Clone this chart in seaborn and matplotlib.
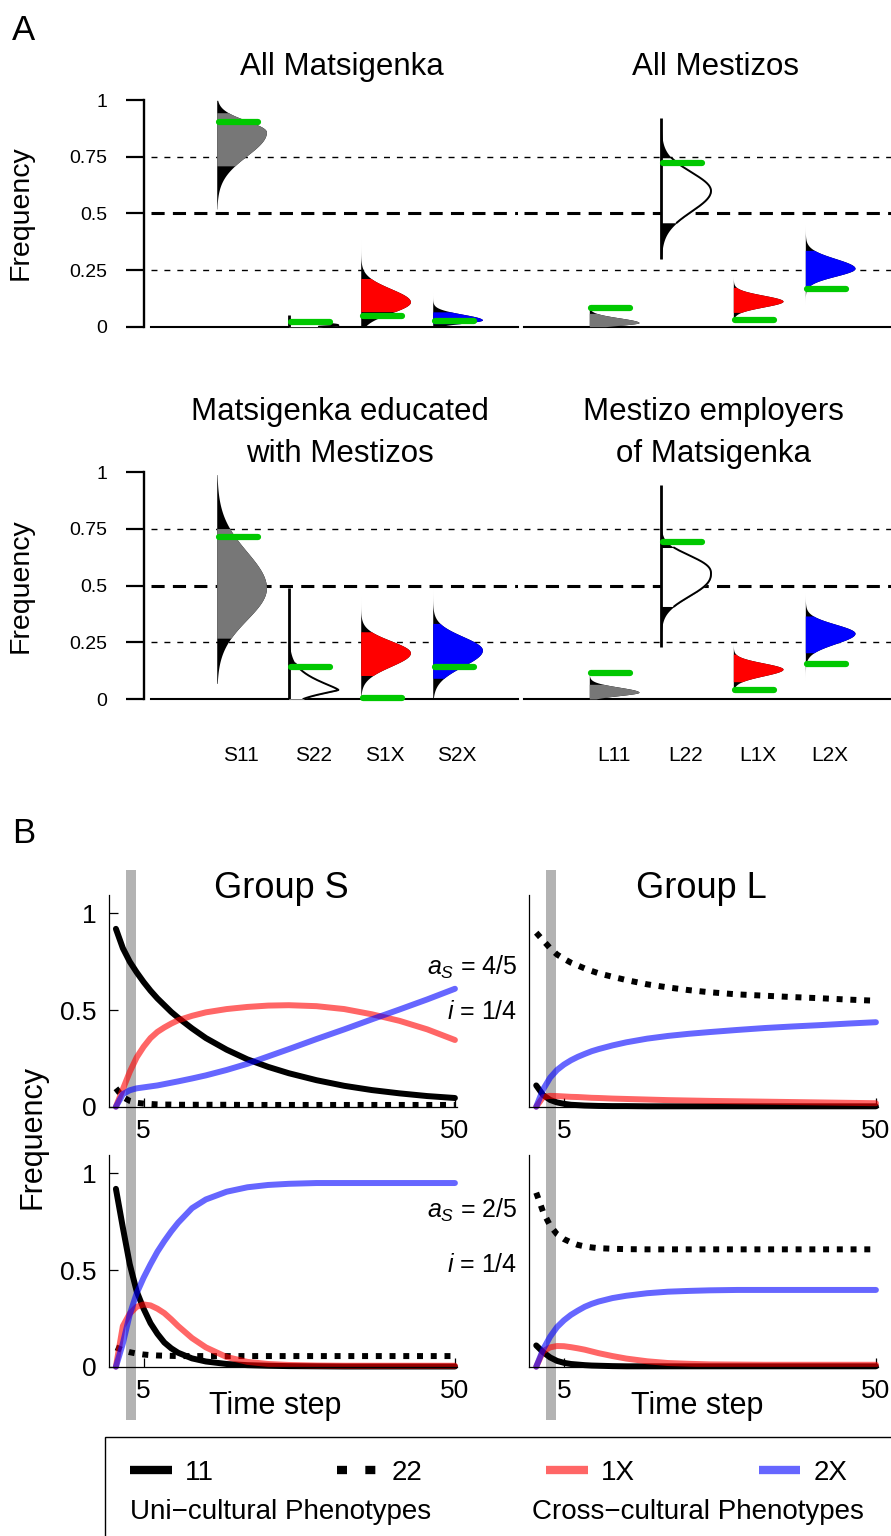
import numpy as np
import matplotlib
matplotlib.use("Agg")
import matplotlib.pyplot as plt
import seaborn as sns
from matplotlib.lines import Line2D
from matplotlib.patches import Rectangle

# ---------------- Panel A data (posterior shapes) -------------
S_LABELS = ["S11", "S22", "S1X", "S2X"]
L_LABELS = ["L11", "L22", "L1X", "L2X"]
FILLS = ["#777777", "white", "#ff0000", "#0000ff"]

# All Matsigenka
am_lo = [0.52, 0.0, 0.0, 0.0]
am_hi = [1.0, 0.05, 0.42, 0.18]
am_peak = [0.86, 0.006, 0.11, 0.03]
am_sd_low = [0.105, 0.006, 0.05, 0.015]
am_sd_high = [0.05, 0.01, 0.058, 0.025]
am_shape = [2, 2, 2, 2]
am_band_lo = [0.71, 0.0, 0.066, 0.013]
am_band_hi = [0.946, 0.015, 0.213, 0.066]
am_obs = [0.904, 0.022, 0.047, 0.027]

# All Mestizos
ae_lo = [0.0, 0.30, 0.035, 0.074]
ae_hi = [0.118, 0.92, 0.27, 0.456]
ae_peak = [0.018, 0.60, 0.113, 0.258]
ae_sd_low = [0.012, 0.092, 0.026, 0.035]
ae_sd_high = [0.021, 0.082, 0.026, 0.043]
ae_shape = [2, 2, 2, 2]
ae_band_lo = [0.0, 0.459, 0.063, 0.18]
ae_band_hi = [0.059, 0.747, 0.174, 0.338]
ae_obs = [0.083, 0.724, 0.028, 0.166]

# Matsigenka educated with Mestizos
me_lo = [0.069, 0.0, 0.0, 0.0]
me_hi = [0.99, 0.488, 0.45, 0.53]
me_peak = [0.49, 0.04, 0.204, 0.216]
me_sd_low = [0.14, 0.02, 0.06, 0.072]
me_sd_high = [0.16, 0.04, 0.053, 0.06]
me_shape = [2, 1.3, 2, 2]
me_band_lo = [0.268, 0.0, 0.103, 0.091]
me_band_hi = [0.753, 0.157, 0.297, 0.334]
me_obs = [0.715, 0.142, 0.006, 0.142]

# Mestizo employers of Matsigenka
ee_lo = [0.0, 0.231, 0.03, 0.04]
ee_hi = [0.142, 0.944, 0.326, 0.473]
ee_peak = [0.03, 0.554, 0.132, 0.29]
ee_sd_low = [0.015, 0.096, 0.03, 0.046]
ee_sd_high = [0.022, 0.075, 0.027, 0.04]
ee_shape = [2, 2.4, 2, 2]
ee_band_lo = [0.0, 0.407, 0.076, 0.204]
ee_band_hi = [0.065, 0.669, 0.198, 0.367]
ee_obs = [0.116, 0.692, 0.04, 0.154]

# ---------------- Panel B data (time series) -----------------------------------------
T = [1, 2, 3, 4, 5, 6, 7, 8, 9, 10, 12, 14, 17, 20, 23, 26, 30, 34, 38, 42, 46, 50]

# Group S, a_S = 4/5
s45_11 = [0.92, 0.82, 0.75, 0.695, 0.645, 0.60, 0.56, 0.525, 0.49, 0.46, 0.405, 0.355, 0.295, 0.245, 0.206, 0.173, 0.137, 0.108, 0.086, 0.069, 0.055, 0.045]
s45_22 = [0.095, 0.05, 0.03, 0.02, 0.016, 0.014, 0.012, 0.011, 0.011, 0.01, 0.01, 0.01, 0.01, 0.009, 0.009, 0.009, 0.009, 0.009, 0.009, 0.009, 0.009, 0.009]
s45_1X = [0.0, 0.09, 0.18, 0.255, 0.31, 0.355, 0.387, 0.41, 0.43, 0.447, 0.47, 0.488, 0.505, 0.516, 0.523, 0.525, 0.52, 0.505, 0.478, 0.444, 0.40, 0.345]
s45_2X = [0.0, 0.065, 0.085, 0.095, 0.10, 0.105, 0.11, 0.117, 0.124, 0.131, 0.146, 0.162, 0.19, 0.222, 0.26, 0.298, 0.35, 0.40, 0.452, 0.503, 0.555, 0.61]

# Group S, a_S = 2/5
s25_11 = [0.92, 0.72, 0.53, 0.39, 0.30, 0.225, 0.17, 0.125, 0.095, 0.072, 0.043, 0.027, 0.014, 0.008, 0.005, 0.003, 0.002, 0.001, 0.001, 0.001, 0.001, 0.001]
s25_22 = [0.10, 0.085, 0.075, 0.068, 0.063, 0.06, 0.058, 0.057, 0.056, 0.055, 0.055, 0.055, 0.055, 0.055, 0.055, 0.055, 0.055, 0.055, 0.055, 0.055, 0.055, 0.055]
s25_1X = [0.0, 0.21, 0.275, 0.31, 0.322, 0.317, 0.30, 0.277, 0.245, 0.21, 0.148, 0.10, 0.05, 0.025, 0.014, 0.009, 0.006, 0.005, 0.005, 0.005, 0.005, 0.005]
s25_2X = [0.0, 0.12, 0.27, 0.38, 0.46, 0.53, 0.595, 0.65, 0.70, 0.745, 0.82, 0.865, 0.905, 0.928, 0.94, 0.946, 0.95, 0.95, 0.95, 0.95, 0.95, 0.95]

# Group L, a_S = 4/5
l45_11 = [0.11, 0.06, 0.035, 0.022, 0.015, 0.01, 0.008, 0.006, 0.005, 0.004, 0.003, 0.003, 0.002, 0.002, 0.002, 0.002, 0.002, 0.002, 0.002, 0.002, 0.002, 0.002]
l45_22 = [0.90, 0.86, 0.82, 0.787, 0.765, 0.745, 0.73, 0.715, 0.702, 0.69, 0.672, 0.655, 0.633, 0.617, 0.603, 0.592, 0.581, 0.574, 0.567, 0.561, 0.554, 0.548]
l45_1X = [0.0, 0.05, 0.056, 0.055, 0.053, 0.051, 0.05, 0.048, 0.046, 0.045, 0.042, 0.04, 0.037, 0.034, 0.032, 0.03, 0.028, 0.026, 0.024, 0.022, 0.02, 0.018]
l45_2X = [0.0, 0.09, 0.15, 0.19, 0.218, 0.24, 0.258, 0.273, 0.287, 0.298, 0.317, 0.333, 0.352, 0.366, 0.377, 0.386, 0.397, 0.407, 0.415, 0.422, 0.43, 0.437]

# Group L, a_S = 2/5
l25_11 = [0.11, 0.075, 0.048, 0.03, 0.02, 0.014, 0.011, 0.008, 0.006, 0.005, 0.003, 0.002, 0.002, 0.002, 0.002, 0.002, 0.002, 0.002, 0.002, 0.002, 0.002, 0.002]
l25_22 = [0.90, 0.80, 0.73, 0.685, 0.66, 0.643, 0.63, 0.622, 0.617, 0.613, 0.61, 0.608, 0.607, 0.607, 0.607, 0.607, 0.607, 0.607, 0.607, 0.607, 0.607, 0.607]
l25_1X = [0.0, 0.08, 0.10, 0.107, 0.106, 0.101, 0.095, 0.088, 0.079, 0.07, 0.055, 0.042, 0.028, 0.019, 0.015, 0.012, 0.011, 0.01, 0.01, 0.01, 0.01, 0.01]
l25_2X = [0.0, 0.09, 0.155, 0.205, 0.24, 0.268, 0.29, 0.31, 0.325, 0.337, 0.355, 0.367, 0.38, 0.388, 0.392, 0.395, 0.397, 0.397, 0.397, 0.397, 0.397, 0.397]

B_TICKS = [5, 50]
PARAM_TEXT_TOP = [r"$a_S$ = 4/5", r"$i$ = 1/4"]
PARAM_TEXT_BOT = [r"$a_S$ = 2/5", r"$i$ = 1/4"]

# ---------------- styling ---------------------------------------------------------
sns.set_theme(style="white", rc={"axes.edgecolor": "black", "text.color": "black",
                                 "xtick.color": "black", "ytick.color": "black",
                                 "axes.labelcolor": "black"})
plt.rcParams["font.family"] = ["Liberation Sans", "DejaVu Sans"]
plt.rcParams["mathtext.fontset"] = "custom"
plt.rcParams["mathtext.rm"] = "Liberation Sans"
plt.rcParams["mathtext.it"] = "Liberation Sans:italic"

W, H = 891, 1536
fig = plt.figure(figsize=(W / 100, H / 100), dpi=100)
fig.patch.set_facecolor("white")


def rect(l, t, r, b):
    return [l / W, 1 - b / H, (r - l) / W, (b - t) / H]


GREEN = "#00c800"
VW = 0.69
XL = (-0.91, 4.19)


def draw_violins(ax, lo, hi, peak, sdl, sdh, shp, blo, bhi, obs):
    for i in range(4):
        y = np.linspace(lo[i], hi[i], 500)
        d = np.where(y < peak[i], (peak[i] - y) / sdl[i], (y - peak[i]) / sdh[i])
        w = VW * np.exp(-0.5 * np.abs(d) ** shp[i])
        ax.fill_betweenx(y, i, i + w, color="black", lw=0, zorder=3)
        m = (y >= blo[i]) & (y <= bhi[i])
        ax.fill_betweenx(y[m], i, i + w[m], facecolor=FILLS[i], lw=0, zorder=4)
        if FILLS[i] == "white":
            ax.plot(i + w[m], y[m], color="black", lw=1.4, zorder=5)
            ax.vlines(i, lo[i], hi[i], color="black", lw=2, zorder=5)
        ax.plot([i + 0.03, i + 0.57], [obs[i], obs[i]], color=GREEN, lw=4.5,
                solid_capstyle="round", zorder=6, clip_on=False)


def setup_A(ax, left, labels):
    ax.set_xlim(*XL)
    ax.set_ylim(0, 1)
    ax.set_facecolor("none")
    for yv, lw, ls in [(0.25, 1.0, (0, (4.3, 5))), (0.75, 1.0, (0, (4.3, 5))),
                       (0.5, 2.2, (0, (4.3, 2.7)))]:
        ax.axhline(yv, color="black", lw=lw, ls=ls, zorder=1)
    if left:
        sns.despine(ax=ax, offset={"left": 5})
        ax.spines["left"].set_bounds(0, 1)
        ax.spines["left"].set_linewidth(1.7)
        ax.set_yticks([0, 0.25, 0.5, 0.75, 1])
        ax.set_yticklabels(["0", "0.25", "0.5", "0.75", "1"])
        ax.tick_params(axis="y", length=13, width=1.6, pad=13.5, labelsize=14, left=True)
    else:
        sns.despine(ax=ax, left=True)
        ax.set_yticks([])
    ax.spines["bottom"].set_linewidth(1.5)
    if labels is None:
        ax.set_xticks([])
    else:
        ax.set_xticks(np.arange(4) + 0.34)
        ax.set_xticklabels(labels)
        ax.tick_params(axis="x", length=0, pad=34, labelsize=15)


# Panel A axes
axA = {
    "tS": fig.add_axes(rect(151.2, 100.3, 518.4, 326.7)),
    "tL": fig.add_axes(rect(523.8, 100.3, 891, 326.7)),
    "bS": fig.add_axes(rect(151.2, 472.3, 518.4, 699)),
    "bL": fig.add_axes(rect(523.8, 472.3, 891, 699)),
}
setup_A(axA["tS"], True, None)
setup_A(axA["tL"], False, None)
setup_A(axA["bS"], True, S_LABELS)
setup_A(axA["bL"], False, L_LABELS)
draw_violins(axA["tS"], am_lo, am_hi, am_peak, am_sd_low, am_sd_high, am_shape, am_band_lo, am_band_hi, am_obs)
draw_violins(axA["tL"], ae_lo, ae_hi, ae_peak, ae_sd_low, ae_sd_high, ae_shape, ae_band_lo, ae_band_hi, ae_obs)
draw_violins(axA["bS"], me_lo, me_hi, me_peak, me_sd_low, me_sd_high, me_shape, me_band_lo, me_band_hi, me_obs)
draw_violins(axA["bL"], ee_lo, ee_hi, ee_peak, ee_sd_low, ee_sd_high, ee_shape, ee_band_lo, ee_band_hi, ee_obs)

fig.text(12 / W, 1 - 40 / H, "A", fontsize=25, ha="left", va="baseline")
fig.text(342 / W, 1 - 75 / H, "All Matsigenka", fontsize=22.5, ha="center", va="baseline")
fig.text(715 / W, 1 - 75 / H, "All Mestizos", fontsize=22.5, ha="center", va="baseline")
fig.text(340 / W, 1 - 420 / H, "Matsigenka educated", fontsize=22.5, ha="center", va="baseline")
fig.text(340 / W, 1 - 462 / H, "with Mestizos", fontsize=22.5, ha="center", va="baseline")
fig.text(713 / W, 1 - 420 / H, "Mestizo employers", fontsize=22.5, ha="center", va="baseline")
fig.text(713 / W, 1 - 462 / H, "of Matsigenka", fontsize=22.5, ha="center", va="baseline")
fig.text(21 / W, 1 - 213 / H, "Frequency", fontsize=20.5, rotation=90, ha="center", va="center")
fig.text(21 / W, 1 - 586 / H, "Frequency", fontsize=20.5, rotation=90, ha="center", va="center")

# ---------------- Panel B ---------------------------------------------------------
XLB = (0, 50.3)
YLB = (0, 1.095)
LCOL = (109, 457)
RCOL = (529.3, 878)

# grey band behind both rows of each column
for (l, r) in (LCOL, RCOL):
    bg = fig.add_axes(rect(l, 870, r, 1420), zorder=0)
    bg.set_xlim(*XLB)
    bg.axvspan(2.4, 3.85, color="#b3b3b3", lw=0)
    bg.axis("off")

LW = 4.3
DOT = (0, (1, 1.3))


def draw_B(ax, y11, y22, y1x, y2x, left):
    common = dict(ax=ax, lw=LW, errorbar=None, clip_on=False, solid_joinstyle="round")
    sns.lineplot(x=T, y=y22, color="black", linestyle=DOT, dash_capstyle="butt",
                 dash_joinstyle="round", **common)
    sns.lineplot(x=T, y=y11, color="black", **common)
    sns.lineplot(x=T, y=y1x, color="#ff0000", alpha=0.6, **common)
    sns.lineplot(x=T, y=y2x, color="#0000ff", alpha=0.6, **common)
    ax.set_xlim(*XLB)
    ax.set_ylim(*YLB)
    ax.set_facecolor("none")
    ax.set_xlabel("")
    ax.set_ylabel("")
    sns.despine(ax=ax)
    for s in ("left", "bottom"):
        ax.spines[s].set_linewidth(0.9)
    ax.set_xticks(B_TICKS)
    ax.set_xticklabels([str(t) for t in B_TICKS])
    ax.tick_params(axis="x", direction="in", length=6.5, width=0.9, pad=9, labelsize=19, bottom=True)
    if left:
        ax.set_yticks([0, 0.5, 1])
        ax.set_yticklabels(["0", "0.5", "1"])
        ax.tick_params(axis="y", direction="in", length=6.5, width=0.9, pad=9, labelsize=19, left=True)
    else:
        ax.set_yticks([])


axTL = fig.add_axes(rect(LCOL[0], 895, LCOL[1], 1106.7), zorder=2)
axTR = fig.add_axes(rect(RCOL[0], 895, RCOL[1], 1106.7), zorder=2)
axBL = fig.add_axes(rect(LCOL[0], 1155, LCOL[1], 1366.7), zorder=2)
axBR = fig.add_axes(rect(RCOL[0], 1155, RCOL[1], 1366.7), zorder=2)
draw_B(axTL, s45_11, s45_22, s45_1X, s45_2X, True)
draw_B(axTR, l45_11, l45_22, l45_1X, l45_2X, False)
draw_B(axBL, s25_11, s25_22, s25_1X, s25_2X, True)
draw_B(axBR, l25_11, l25_22, l25_1X, l25_2X, False)

fig.text(12 / W, 1 - 843 / H, "B", fontsize=25, ha="left", va="baseline")
fig.text(281 / W, 1 - 898 / H, "Group S", fontsize=26, ha="center", va="baseline")
fig.text(701 / W, 1 - 898 / H, "Group L", fontsize=26, ha="center", va="baseline")
fig.text(32 / W, 1 - 1137 / H, "Frequency", fontsize=22, rotation=90, ha="center", va="center")
fig.text(275 / W, 1 - 1414 / H, "Time step", fontsize=22, ha="center", va="baseline")
fig.text(697 / W, 1 - 1414 / H, "Time step", fontsize=22, ha="center", va="baseline")
for txt, yy in zip(PARAM_TEXT_TOP + PARAM_TEXT_BOT, [967, 1012, 1210, 1265]):
    fig.text(517 / W, 1 - yy / H, txt, fontsize=18, ha="right", va="center")

# ---------------- legend ------------------------------------------------------------
fig.patches.append(Rectangle((105 / W, -0.02), 1.0, (1 - 1437 / H) + 0.02, transform=fig.transFigure,
                             facecolor="none", edgecolor="black", lw=1.0, clip_on=False))
handles = [
    Line2D([], [], color="black", lw=6, solid_capstyle="butt"),
    Line2D([], [], color="black", lw=6, linestyle=(0, (1.2, 2.2)), dash_capstyle="butt"),
    Line2D([], [], color="#ff0000", alpha=0.6, lw=6, solid_capstyle="butt"),
    Line2D([], [], color="#0000ff", alpha=0.6, lw=6, solid_capstyle="butt"),
]
fig.legend(handles, ["11", "22", "1X", "2X"], ncol=4, loc="center left",
           bbox_to_anchor=(130 / W, 1 - 1473 / H), frameon=False, fontsize=20,
           handlelength=1.5, handletextpad=0.47, columnspacing=4.45,
           borderpad=0, borderaxespad=0)
fig.text(130 / W, 1 - 1512 / H, "Uni\u2212cultural Phenotypes", fontsize=20, ha="left", va="center")
fig.text(532 / W, 1 - 1512 / H, "Cross\u2212cultural Phenotypes", fontsize=20, ha="left", va="center")

fig.savefig("out.png", dpi=100)
